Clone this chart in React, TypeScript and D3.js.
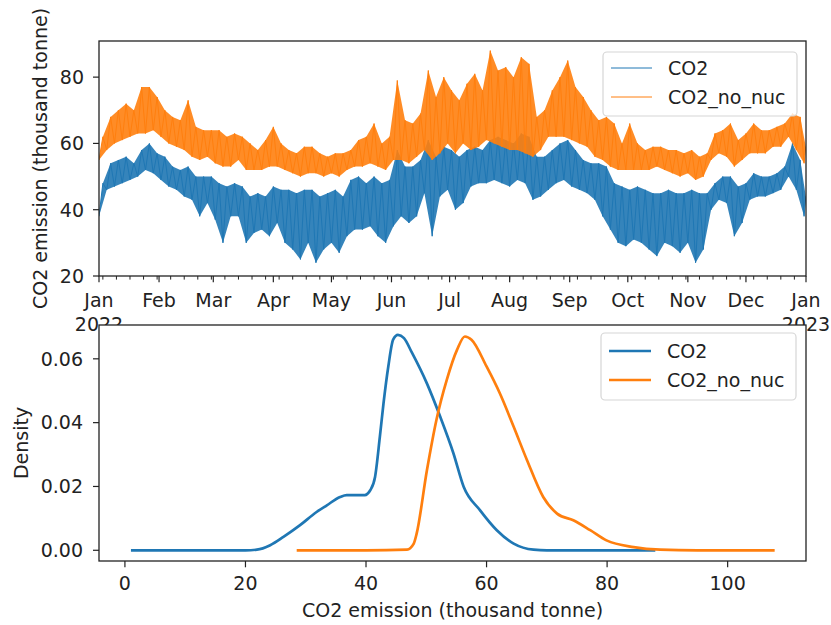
import React from "react";
import * as d3 from "d3";

// Top panel: hourly CO2 emission 2022, read as 4-day envelopes (low / high), thousand tonne
const sampleDays: number[] = d3.range(0, 365, 4);
const co2Low: number[] = [
  38, 46, 47, 48, 49, 50, 52, 51, 49, 47, 46, 44, 43, 38, 42, 37, 30, 38, 38, 30, 33, 34, 32, 36,
  30, 28, 25, 30, 24, 28, 30, 27, 32, 34, 34, 35, 32, 30, 35, 38, 36, 38, 45, 32, 44, 46, 40,
  42, 47, 48, 48, 49, 48, 47, 49, 48, 43, 44, 46, 48, 49, 47, 46, 45, 43, 38, 34, 30, 29, 31,
  30, 28, 26, 30, 29, 27, 30, 24, 28, 40, 43, 42, 32, 36, 43, 44, 44, 45, 46, 50, 46, 38,
];
const co2High: number[] = [
  48, 54, 55, 56, 54, 58, 60, 57, 56, 53, 52, 53, 50, 50, 50, 48, 47, 48, 47, 44, 45, 44, 47, 46,
  46, 45, 46, 46, 44, 45, 46, 44, 49, 50, 48, 50, 48, 49, 58, 53, 53, 55, 61, 56, 59, 58, 56,
  58, 59, 58, 61, 62, 61, 60, 63, 62, 56, 56, 58, 60, 61, 58, 55, 54, 54, 53, 48, 47, 46, 47,
  46, 45, 45, 46, 45, 45, 46, 45, 45, 48, 50, 50, 47, 48, 51, 50, 50, 51, 53, 60, 55, 44,
];
const noNucLow: number[] = [
  55, 58, 60, 61, 62, 63, 63, 64, 62, 60, 59, 58, 56, 55, 56, 54, 53, 53, 55, 52, 52, 52, 53, 53,
  52, 51, 50, 51, 51, 50, 51, 50, 52, 53, 53, 54, 53, 52, 55, 55, 54, 56, 58, 55, 57, 60, 57,
  60, 58, 59, 61, 60, 59, 58, 58, 57, 56, 58, 62, 62, 62, 61, 60, 59, 56, 55, 53, 52, 52, 52,
  52, 52, 53, 52, 51, 50, 51, 49, 50, 55, 57, 56, 53, 55, 57, 57, 57, 59, 59, 62, 58, 54,
];
const noNucHigh: number[] = [
  62, 68, 70, 72, 70, 77, 77, 74, 70, 68, 67, 73, 65, 64, 64, 64, 62, 63, 62, 60, 58, 61, 65, 60,
  58, 57, 59, 59, 57, 56, 57, 57, 58, 61, 62, 66, 60, 62, 79, 67, 66, 69, 82, 74, 80, 76, 73,
  78, 81, 76, 88, 82, 83, 80, 86, 84, 68, 70, 76, 80, 85, 77, 74, 70, 67, 68, 66, 60, 66, 60,
  58, 59, 59, 58, 58, 57, 58, 56, 57, 63, 64, 66, 61, 63, 66, 64, 64, 65, 66, 69, 68, 59,
];

// Bottom panel: kernel density estimates
const kdeCo2X: number[] = [1, 10, 20, 21.9, 24.1, 26.3, 29.0, 31.8, 33.5, 35.7, 36.8, 39.8, 40.7, 41.5, 42.3, 42.9, 43.7, 44.5, 45.3, 46.3, 47.6, 50.1, 52.3, 54.5, 56.2, 58.9, 61.7, 64.5, 67.8, 70, 80, 88];
const kdeCo2Y: number[] = [0, 0, 0, 0.0002, 0.0016, 0.0042, 0.0078, 0.012, 0.0141, 0.0167, 0.0173, 0.0173, 0.0188, 0.023, 0.0356, 0.046, 0.0576, 0.066, 0.0675, 0.0665, 0.062, 0.0523, 0.0419, 0.0304, 0.0199, 0.0126, 0.0063, 0.0021, 0.0002, 0, 0, 0];
const kdeNoNucX: number[] = [28.5, 40, 46.8, 47.9, 48.4, 50.1, 51.7, 53.4, 55.1, 56.4, 57.5, 60.0, 62.2, 64.5, 66.7, 69.4, 71.7, 74.4, 77.2, 79.9, 84.4, 88.8, 95, 107.8];
const kdeNoNucY: number[] = [0, 0, 0.0002, 0.002, 0.0052, 0.025, 0.041, 0.0534, 0.0628, 0.067, 0.066, 0.0576, 0.0492, 0.0387, 0.0283, 0.0167, 0.0115, 0.0094, 0.0063, 0.0031, 0.001, 0.0002, 0, 0];

const seriesNames = ["CO2", "CO2_no_nuc"];
const colors = ["#1f77b4", "#ff7f0e"];
const topYTicks = [20, 40, 60, 80];
const botYTicks = [0, 0.02, 0.04, 0.06];
const botXTicks = [0, 20, 40, 60, 80, 100];

const FONT = "'DejaVu Sans', sans-serif";
const FS = 19;

const L = 99, R = 806;
const T1 = 41, B1 = 276;
const T2 = 325, B2 = 561;

const DAY = 86400000;
const t0 = Date.UTC(2022, 0, 1);
const toDate = (d: number) => new Date(t0 + d * DAY);

export default function App() {
  const x1 = d3.scaleUtc().domain([new Date(t0), new Date(Date.UTC(2023, 0, 1))]).range([L, R]);
  const y1 = d3.scaleLinear().domain([20, 90.9]).range([B1, T1]);
  const x2 = d3.scaleLinear().domain([-4.3, 113]).range([L, R]);
  const y2 = d3.scaleLinear().domain([-0.00336, 0.0706]).range([B2, T2]);

  const mkZig = (lo: number[], hi: number[]) => {
    const pts: [number, number][] = [];
    sampleDays.forEach((d, i) => {
      pts.push([d, lo[i]]);
      pts.push([Math.min(d + 2, 364.9), hi[i]]);
    });
    return d3.line<[number, number]>().x((p) => x1(toDate(p[0]))).y((p) => y1(p[1]))(pts) || "";
  };
  const mkBand = (lo: number[], hi: number[]) => {
    const idx = sampleDays.map((_, i) => i);
    return (
      d3
        .area<number>()
        .x0((i) => x1(toDate(sampleDays[i])))
        .x1((i) => x1(toDate(Math.min(sampleDays[i] + 2, 364.9))))
        .y0((i) => y1(lo[i]))
        .y1((i) => y1(hi[i]))(idx) || ""
    );
  };

  const kdeLine = (xs: number[], ys: number[]) =>
    d3
      .line<number>()
      .x((i) => x2(xs[i]))
      .y((i) => y2(ys[i]))
      .curve(d3.curveMonotoneX)(xs.map((_, i) => i)) || "";

  const months = d3.utcMonth.range(new Date(t0), new Date(Date.UTC(2023, 0, 2)));
  const weeks = d3.utcMonday.range(new Date(t0), new Date(Date.UTC(2023, 0, 1)));
  const monthFmt = d3.utcFormat("%b");

  const topSeries = [
    { lo: co2Low, hi: co2High },
    { lo: noNucLow, hi: noNucHigh },
  ];
  const kdes = [
    { xs: kdeCo2X, ys: kdeCo2Y },
    { xs: kdeNoNucX, ys: kdeNoNucY },
  ];

  const legend = (x0: number, y0: number, w: number, h: number, rows: number[], lw: number, lineX: number[], textX: number) => (
    <g>
      <rect x={x0} y={y0} width={w} height={h} rx={4} fill="white" fillOpacity={0.8} stroke="#d6d6d6" strokeWidth={1.2} />
      {seriesNames.map((n, i) => (
        <g key={n}>
          <line x1={lineX[0]} x2={lineX[1]} y1={rows[i]} y2={rows[i]} stroke={colors[i]} strokeWidth={lw} />
          <text x={textX} y={rows[i]} dy="0.36em" fontSize={FS} fontFamily={FONT} fill="#222">
            {n}
          </text>
        </g>
      ))}
    </g>
  );

  return (
    <svg width={831} height={625} style={{ position: "absolute", left: 0, top: 0, background: "white" }}>
      <defs>
        <clipPath id="clipTop">
          <rect x={L} y={T1} width={R - L} height={B1 - T1} />
        </clipPath>
        <clipPath id="clipBot">
          <rect x={L} y={T2} width={R - L} height={B2 - T2} />
        </clipPath>
      </defs>
      <rect x={0} y={0} width={831} height={625} fill="white" />

      {/* ---------- Top panel ---------- */}
      <g clipPath="url(#clipTop)">
        {topSeries.map((s, i) => (
          <g key={i}>
            <path d={mkBand(s.lo, s.hi)} fill={colors[i]} fillOpacity={0.9} stroke="none" />
            <path d={mkZig(s.lo, s.hi)} fill="none" stroke={colors[i]} strokeWidth={1} />
          </g>
        ))}
      </g>
      <rect x={L} y={T1} width={R - L} height={B1 - T1} fill="none" stroke="#222" strokeWidth={1.3} />
      {topYTicks.map((v) => (
        <g key={v}>
          <line x1={L - 6} x2={L} y1={y1(v)} y2={y1(v)} stroke="#222" strokeWidth={1.2} />
          <text x={84} y={y1(v)} dy="0.36em" textAnchor="end" fontSize={FS} fontFamily={FONT} fill="#222">
            {v}
          </text>
        </g>
      ))}
      {weeks.map((w, i) => (
        <line key={i} x1={x1(w)} x2={x1(w)} y1={B1} y2={B1 + 3.6} stroke="#222" strokeWidth={1} />
      ))}
      {months.map((m, i) => (
        <g key={i}>
          <line x1={x1(m)} x2={x1(m)} y1={B1} y2={B1 + 6.3} stroke="#222" strokeWidth={1.2} />
          <text x={x1(m)} y={307} textAnchor="middle" fontSize={FS} fontFamily={FONT} fill="#222">
            {monthFmt(m)}
          </text>
        </g>
      ))}
      <text x={x1(months[0])} y={331} textAnchor="middle" fontSize={FS} fontFamily={FONT} fill="#222">
        2022
      </text>
      <text x={x1(months[12])} y={331} textAnchor="middle" fontSize={FS} fontFamily={FONT} fill="#222">
        2023
      </text>
      <text transform={`translate(47,${(T1 + B1) / 2}) rotate(-90)`} textAnchor="middle" fontSize={FS} fontFamily={FONT} fill="#222">
        CO2 emission (thousand tonne)
      </text>
      {legend(603, 52, 194, 64, [68, 97], 1, [611, 652], 668)}

      {/* ---------- Bottom panel ---------- */}
      <rect x={L} y={T2} width={R - L} height={B2 - T2} fill="white" />
      <g clipPath="url(#clipBot)">
        {kdes.map((k, i) => (
          <path key={i} d={kdeLine(k.xs, k.ys)} fill="none" stroke={colors[i]} strokeWidth={2.7} strokeLinejoin="round" />
        ))}
      </g>
      <rect x={L} y={T2} width={R - L} height={B2 - T2} fill="none" stroke="#222" strokeWidth={1.3} />
      {botYTicks.map((v) => (
        <g key={v}>
          <line x1={L - 6} x2={L} y1={y2(v)} y2={y2(v)} stroke="#222" strokeWidth={1.2} />
          <text x={83} y={y2(v)} dy="0.36em" textAnchor="end" fontSize={FS} fontFamily={FONT} fill="#222">
            {v.toFixed(2)}
          </text>
        </g>
      ))}
      {botXTicks.map((v) => (
        <g key={v}>
          <line x1={x2(v)} x2={x2(v)} y1={B2} y2={B2 + 6.3} stroke="#222" strokeWidth={1.2} />
          <text x={x2(v)} y={590} textAnchor="middle" fontSize={FS} fontFamily={FONT} fill="#222">
            {v}
          </text>
        </g>
      ))}
      <text x={(L + R) / 2} y={617} textAnchor="middle" fontSize={FS} fontFamily={FONT} fill="#222">
        CO2 emission (thousand tonne)
      </text>
      <text transform={`translate(28,${(T2 + B2) / 2}) rotate(-90)`} textAnchor="middle" fontSize={FS} fontFamily={FONT} fill="#222">
        Density
      </text>
      {legend(601, 333, 195, 67, [351, 380], 2.7, [609, 651], 667)}
    </svg>
  );
}
